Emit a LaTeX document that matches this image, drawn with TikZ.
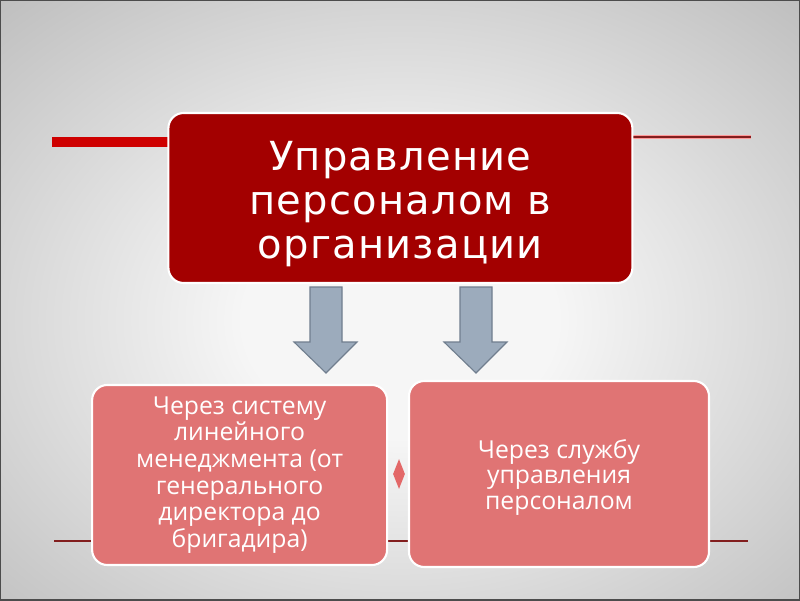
\documentclass[tikz,border=0pt]{standalone}
\usepackage{fontspec}
\setmainfont{DejaVu Sans}
\newfontfamily\headfont[LetterSpace=3]{DejaVu Sans}
\newfontfamily\boxfont{Open Sans}
\usetikzlibrary{shapes.geometric}
\definecolor{bgcenter}{RGB}{246,246,246}
\definecolor{bgedge}{RGB}{165,165,165}
\definecolor{bgcorner}{RGB}{118,118,118}
\definecolor{headred}{RGB}{163,0,0}
\definecolor{boxpink}{RGB}{224,116,116}
\definecolor{barred}{RGB}{206,0,0}
\definecolor{linered}{RGB}{130,30,30}
\definecolor{arrowfill}{RGB}{156,171,188}
\definecolor{arrowline}{RGB}{112,126,142}
\pgfdeclareradialshading{slidebg}{\pgfpoint{0bp}{0bp}}{color(0bp)=(bgcenter); color(7bp)=(bgcenter); color(35bp)=(bgedge); color(50bp)=(bgcorner)}
\begin{document}
\begin{tikzpicture}[
  headbox/.style={draw=white,line width=1.5pt,fill=headred,rounded corners=0.38cm,
    minimum width=11.6cm,minimum height=4.25cm},
  waybox/.style={draw=white,line width=1.5pt,fill=boxpink,rounded corners=0.38cm,
    text=white,align=center,font=\boxfont\fontsize{17.6}{19}\selectfont},
  blockarrow/.style={draw=arrowline,fill=arrowfill,line width=0.8pt,line join=miter}]
\useasboundingbox (0,0) rectangle (20,15);
% background
\begin{scope}
\clip (0,0) rectangle (20,15);
\shade [shading=slidebg] (-4,-3.5) rectangle (24,17.5);
\end{scope}
\draw [gray!60!black,line width=1pt] (0,0) rectangle (20,15);
% red lines
\draw [barred,line width=0.25cm] (1.3,11.45) -- (4.3,11.45);
\draw [red!40,line width=2.5pt] (15.8,11.575) -- (18.78,11.575);
\draw [linered,line width=0.8pt] (15.8,11.575) -- (18.78,11.575);
\draw [linered,line width=0.8pt] (1.35,1.475) -- (18.7,1.475);
% boxes
\node [headbox] (head) at (10.01,10.05) {};
\node [text=white,align=center,font=\headfont\fontsize{28.5}{31.5}\selectfont] (headtext)
  at ([yshift=-0.15cm]head.center) {Управление\\ персоналом в\\ организации};
\node [waybox,minimum width=7.375cm,minimum height=4.5cm] (line) at (5.99,3.125)
  {Через систему\\ линейного\\ менеджмента (от\\ генерального\\ директора до\\ бригадира)};
\node [waybox,minimum width=7.5cm,minimum height=4.65cm] (hr) at (13.975,3.15) {};
\node [text=white,align=center,font=\boxfont\fontsize{17.6}{18}\selectfont] (hrtext)
  at ([yshift=-0.08cm]hr.center) {Через службу\\ управления\\ персоналом};
\node [diamond,fill=boxpink!90!red,inner sep=0pt,minimum width=0.3cm,minimum height=0.75cm] (dmd) at (9.975,3.15) {};
% arrows
\coordinate (la) at (8.15,7.825);
\coordinate (ra) at (11.9,7.825);
\draw [blockarrow] ([xshift=-0.4cm]la) -- ([xshift=-0.4cm,yshift=-1.375cm]la)
  -- ([xshift=-0.8cm,yshift=-1.375cm]la) -- ([yshift=-2.15cm]la)
  -- ([xshift=0.775cm,yshift=-1.375cm]la) -- ([xshift=0.4cm,yshift=-1.375cm]la)
  -- ([xshift=0.4cm]la) -- cycle;
\draw [blockarrow] ([xshift=-0.4cm]ra) -- ([xshift=-0.4cm,yshift=-1.375cm]ra)
  -- ([xshift=-0.8cm,yshift=-1.375cm]ra) -- ([yshift=-2.15cm]ra)
  -- ([xshift=0.775cm,yshift=-1.375cm]ra) -- ([xshift=0.4cm,yshift=-1.375cm]ra)
  -- ([xshift=0.4cm]ra) -- cycle;
\end{tikzpicture}
\end{document}
